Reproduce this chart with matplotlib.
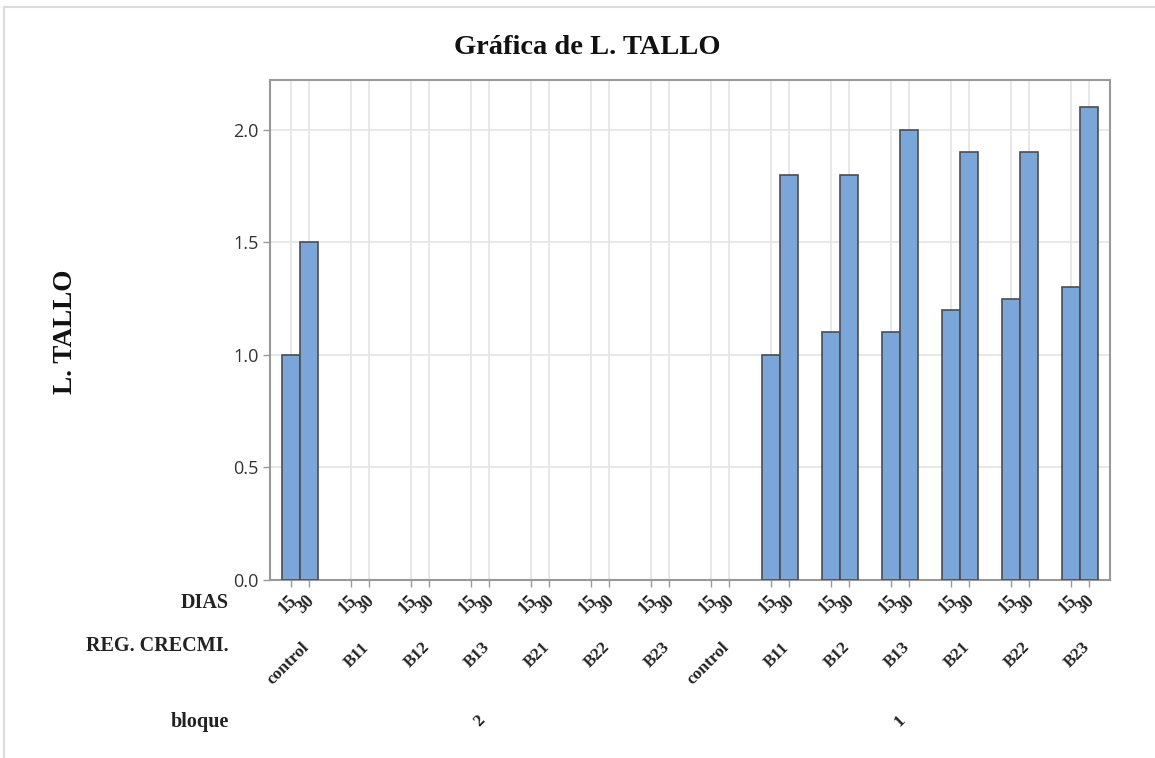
import numpy as np
import matplotlib
matplotlib.use("Agg")
import matplotlib.pyplot as plt
from matplotlib.transforms import blended_transform_factory
from matplotlib.lines import Line2D

# ---- data ----
bloques = ["2", "1"]
reg_crecmi = ["control", "B11", "B12", "B13", "B21", "B22", "B23"]
dias = ["15", "30"]
# values per bloque, per reg, [15, 30]; nan = no data
bloque2_d15 = [1.0, np.nan, np.nan, np.nan, np.nan, np.nan, np.nan]
bloque2_d30 = [1.5, np.nan, np.nan, np.nan, np.nan, np.nan, np.nan]
bloque1_d15 = [np.nan, 1.0, 1.1, 1.1, 1.2, 1.25, 1.3]
bloque1_d30 = [np.nan, 1.8, 1.8, 2.0, 1.9, 1.9, 2.1]
yticks = [0.0, 0.5, 1.0, 1.5, 2.0]

W, H = 1155, 758
fig = plt.figure(figsize=(W / 100, H / 100), dpi=100)
ax = fig.add_axes([270 / W, 1 - 580 / H, 840 / W, 500 / H])

serif = "Liberation Serif"
sans = "Open Sans"
bar_color = "#7BA6D9"
edge = "#4d4d4d"

d15 = bloque2_d15 + bloque1_d15
d30 = bloque2_d30 + bloque1_d30
ngroups = len(d15)
centers = np.arange(ngroups)
off = 0.15
bw = 0.30
ax.bar(centers - off, d15, width=bw, color=bar_color, edgecolor=edge, linewidth=1.2, zorder=3)
ax.bar(centers + off, d30, width=bw, color=bar_color, edgecolor=edge, linewidth=1.2, zorder=3)

ax.set_xlim(-0.5, ngroups - 0.5)
ax.set_ylim(0, 2.222)
ax.set_yticks(yticks)
ax.set_yticklabels([f"{v:.1f}" for v in yticks], fontfamily=sans, fontsize=13, color="#333333")

xt = np.sort(np.concatenate([centers - off, centers + off]))
ax.set_xticks(xt)
ax.set_xticklabels([""] * len(xt))
ax.tick_params(axis="both", direction="out", length=5, width=1, color="#999999")
ax.tick_params(axis="y", pad=3)

ax.grid(True, color="#e6e6e6", linewidth=1.3, zorder=0)
ax.set_axisbelow(True)
for s in ax.spines.values():
    s.set_color("#999999")
    s.set_linewidth(1.5)

tr = blended_transform_factory(ax.transData, fig.transFigure)
px = 1.0 / 60.0  # data units per pixel along x

def fy(ypix):
    return 1 - ypix / H

# DIAS labels
for g in range(ngroups):
    for k, lab in enumerate(dias):
        xpos = centers[g] + (-off if k == 0 else off) + 3 * px
        ax.text(xpos, fy(598), lab, transform=tr, rotation=45, ha="right", va="center",
                rotation_mode="anchor", fontfamily=serif, fontweight="bold", fontsize=13,
                color="#222222")

# REG. CRECMI. labels
regs = reg_crecmi + reg_crecmi
for g in range(ngroups):
    ax.text(centers[g] + 7 * px, fy(645), regs[g], transform=tr, rotation=45, ha="right",
            va="center", rotation_mode="anchor", fontfamily=serif, fontweight="bold",
            fontsize=12.5, color="#222222")

# bloque labels
nper = len(reg_crecmi)
for b, lab in enumerate(bloques):
    xc = np.mean(centers[b * nper:(b + 1) * nper])
    ax.text(xc, fy(721), lab, transform=tr, rotation=45, ha="center", va="center",
            fontfamily=serif, fontweight="bold", fontsize=12.5, color="#222222")

# row headers
for lab, yp in [("DIAS", 603), ("REG. CRECMI.", 646), ("bloque", 722)]:
    fig.text(229 / W, fy(yp), lab, ha="right", va="center", fontfamily=serif,
             fontweight="bold", fontsize=14.5, color="#222222")

fig.text(587 / W, fy(47), "Gráfica de L. TALLO", ha="center", va="center",
         fontfamily=serif, fontweight="bold", fontsize=20.5, color="#111111")
fig.text(66 / W, fy(332), "L. TALLO", ha="center", va="center", rotation=90,
         fontfamily=serif, fontweight="bold", fontsize=19.5, color="#111111")

# outer frame lines (top and left)
fig.add_artist(Line2D([5 / W, 1.0], [fy(7), fy(7)], transform=fig.transFigure,
                      color="#dcdcdc", linewidth=1.5))
fig.add_artist(Line2D([4 / W, 4 / W], [fy(7), 0.0], transform=fig.transFigure,
                      color="#dcdcdc", linewidth=1.5))

fig.savefig("out.png", dpi=100)
